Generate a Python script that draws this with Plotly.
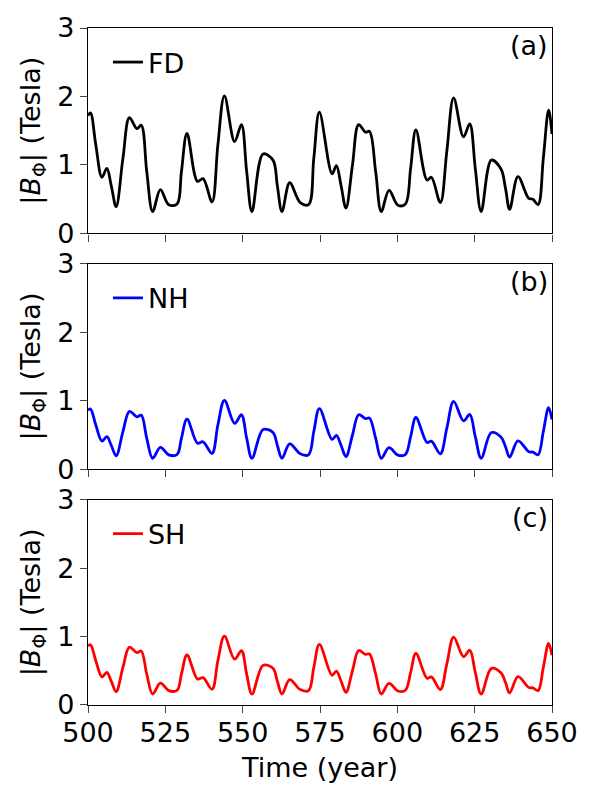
import plotly.graph_objects as go
from plotly.subplots import make_subplots

time = [500.0, 500.8, 502.5, 504.5, 506.1, 507.5, 509.1, 511.3, 513.4, 515.8, 517.2, 519.0,
        520.9, 523.4, 526.1, 528.8, 530.2, 532.0, 535.4, 537.2, 540.1, 542.0, 544.1, 547.4,
        549.6, 551.3, 553.0, 556.6, 559.8, 561.2, 562.7, 565.2, 568.6, 571.3, 573.0, 574.8,
        578.9, 580.3, 581.8, 583.4, 585.5, 587.5, 589.7, 591.0, 593.0, 594.8, 597.3, 600.2,
        602.6, 604.3, 606.0, 609.6, 611.0, 613.9, 616.0, 618.2, 621.4, 623.4, 625.2, 627.1,
        630.4, 633.5, 635.0, 636.3, 639.0, 642.5, 643.8, 645.5, 647.2, 648.9, 650.0]

fd = [1.72, 1.76, 1.30, 0.82, 0.95, 0.70, 0.39, 1.10, 1.69, 1.53, 1.58, 0.90,
      0.32, 0.64, 0.42, 0.43, 0.90, 1.46, 0.76, 0.80, 0.46, 1.30, 2.01, 1.34,
      1.59, 0.90, 0.32, 1.16, 1.07, 0.70, 0.32, 0.74, 0.45, 0.42, 1.10, 1.77,
      0.87, 0.99, 0.70, 0.37, 1.00, 1.59, 1.48, 1.49, 0.90, 0.32, 0.63, 0.41,
      0.43, 0.95, 1.51, 0.78, 0.82, 0.45, 1.20, 1.98, 1.41, 1.60, 0.95, 0.32,
      1.07, 0.94, 0.65, 0.35, 0.83, 0.51, 0.50, 0.42, 1.10, 1.80, 1.45]

nh = [0.86, 0.88, 0.65, 0.41, 0.475, 0.35, 0.195, 0.55, 0.845, 0.765, 0.79, 0.45,
      0.16, 0.32, 0.21, 0.215, 0.45, 0.73, 0.38, 0.40, 0.23, 0.65, 1.005, 0.67,
      0.795, 0.45, 0.16, 0.58, 0.535, 0.35, 0.16, 0.37, 0.225, 0.21, 0.55, 0.885,
      0.435, 0.495, 0.35, 0.185, 0.50, 0.795, 0.74, 0.745, 0.45, 0.16, 0.315, 0.205,
      0.215, 0.475, 0.755, 0.39, 0.41, 0.225, 0.60, 0.99, 0.705, 0.80, 0.475, 0.16,
      0.535, 0.47, 0.325, 0.175, 0.415, 0.255, 0.25, 0.21, 0.55, 0.90, 0.725]

sh = [0.86, 0.88, 0.65, 0.41, 0.475, 0.35, 0.195, 0.55, 0.845, 0.765, 0.79, 0.45,
      0.16, 0.32, 0.21, 0.215, 0.45, 0.73, 0.38, 0.40, 0.23, 0.65, 1.005, 0.67,
      0.795, 0.45, 0.16, 0.58, 0.535, 0.35, 0.16, 0.37, 0.225, 0.21, 0.55, 0.885,
      0.435, 0.495, 0.35, 0.185, 0.50, 0.795, 0.74, 0.745, 0.45, 0.16, 0.315, 0.205,
      0.215, 0.475, 0.755, 0.39, 0.41, 0.225, 0.60, 0.99, 0.705, 0.80, 0.475, 0.16,
      0.535, 0.47, 0.325, 0.175, 0.415, 0.255, 0.25, 0.21, 0.55, 0.90, 0.725]

series_names = ["FD", "NH", "SH"]
series_colors = ["#000000", "#0000ff", "#ff0000"]
panel_labels = ["(a)", "(b)", "(c)"]
x_ticks = [500, 525, 550, 575, 600, 625, 650]
y_ticks = [0, 1, 2, 3]

FONT = "DejaVu Sans"
FS = 27

fig = make_subplots(rows=3, cols=1, shared_xaxes=True, vertical_spacing=0.045)

legends = ["legend", "legend2", "legend3"]
for i, (vals, name, col) in enumerate(zip([fd, nh, sh], series_names, series_colors)):
    fig.add_trace(go.Scatter(x=time, y=vals, mode="lines", name=name,
                             line=dict(color=col, width=2.8, shape="spline", smoothing=1.0),
                             legend=legends[i]),
                  row=i + 1, col=1)

fig.update_layout(
    width=596, height=800,
    margin=dict(l=88, r=44, t=26, b=95),
    plot_bgcolor="white", paper_bgcolor="white",
    font=dict(family=FONT, size=FS, color="black"),
    showlegend=True,
)

doms = [[0.6966, 1.0], [0.3483, 0.6517], [0.0, 0.3034]]
for i in range(3):
    ax = "yaxis" if i == 0 else f"yaxis{i+1}"
    xa = "xaxis" if i == 0 else f"xaxis{i+1}"
    fig.layout[ax].domain = doms[i]
    fig.update_layout({
        ax: dict(range=[0, 3], tickvals=y_ticks, ticks="outside", ticklen=7, tickwidth=1.3,
                 showline=True, linewidth=1.3, linecolor="black", mirror=True,
                 showgrid=False, zeroline=False,
                 title=dict(text="|<i>B</i><sub>Φ</sub>| (Tesla)", font=dict(size=FS), standoff=8),
                 tickfont=dict(size=FS)),
        xa: dict(range=[500, 650], tickvals=x_ticks, ticks="outside", ticklen=7, tickwidth=1.3,
                 showline=True, linewidth=1.3, linecolor="black", mirror=True,
                 showgrid=False, zeroline=False, tickfont=dict(size=FS),
                 showticklabels=(i == 2)),
    })
    top = doms[i][1]
    fig.update_layout({
        legends[i]: dict(x=0.043, xanchor="left", y=top - 0.051, yanchor="middle",
                         bgcolor="rgba(0,0,0,0)", borderwidth=0,
                         font=dict(size=FS, family=FONT))
    })
    xref = "x domain" if i == 0 else f"x{i+1} domain"
    yref = "y domain" if i == 0 else f"y{i+1} domain"
    fig.add_annotation(text=panel_labels[i], x=1, y=1, xref=xref, yref=yref,
                       xanchor="right", yanchor="top", xshift=-2, yshift=0,
                       showarrow=False, font=dict(size=FS))

fig.update_layout(xaxis3=dict(ticklabelstandoff=-4,
                              title=dict(text="Time (year)", font=dict(size=FS), standoff=11)))

fig.write_html("out.html")
